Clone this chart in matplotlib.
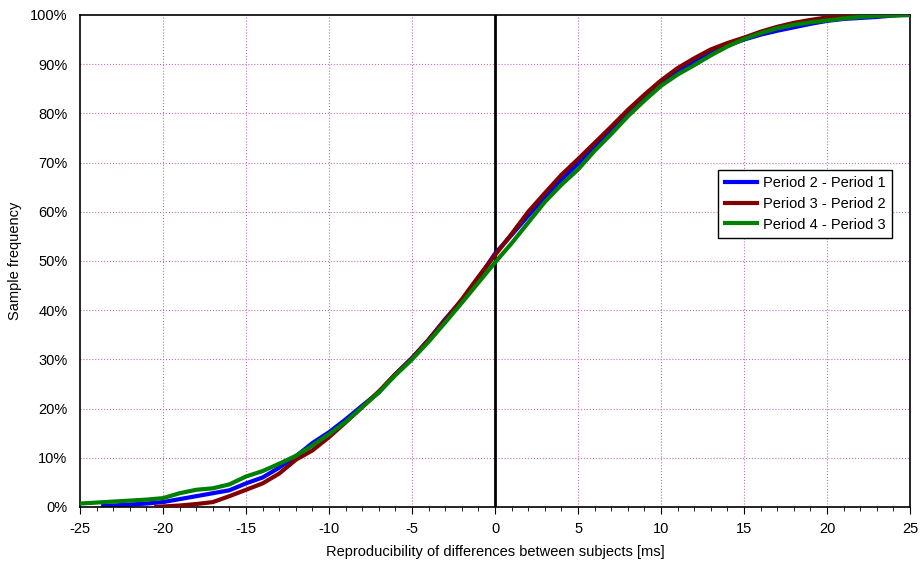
import matplotlib.pyplot as plt
import numpy as np
from matplotlib.ticker import MultipleLocator, PercentFormatter

plt.rcParams['font.family'] = ['Liberation Sans', 'DejaVu Sans']
plt.rcParams['axes.unicode_minus'] = False

# Period 2 - Period 1
x_p21 = [-23.6, -23, -22, -21, -20, -19, -18, -17, -16, -15, -14, -13, -12, -11, -10, -9, -8, -7, -6, -5,
         -4, -3, -2, -1, 0, 1, 2, 3, 4, 5, 6, 7, 8, 9, 10, 11, 12, 13, 14, 15, 16, 17, 18, 19, 20,
         21, 22, 23, 24, 24.5, 25]
y_p21 = [0.2, 0.3, 0.5, 0.7, 1.0, 1.6, 2.2, 2.8, 3.4, 4.8, 6.0, 8.0, 10.3, 13.0, 15.2, 17.8, 20.6, 23.3, 27.0, 30.3,
         34.0, 38.2, 42.0, 46.5, 51.5, 55.3, 59.2, 63.0, 66.5, 69.8, 73.3, 76.6, 80.0, 83.2, 86.0, 88.5, 90.6, 92.4, 93.8, 95.0, 96.0, 96.8, 97.5, 98.2, 98.8,
         99.2, 99.4, 99.6, 99.9, 100, 100]

# Period 3 - Period 2
x_p32 = [-20.4, -20, -19, -18, -17, -16, -15, -14, -13, -12, -11, -10, -9, -8, -7, -6, -5,
         -4, -3, -2, -1, 0, 1, 2, 3, 4, 5, 6, 7, 8, 9, 10, 11, 12, 13, 14, 15, 16, 17, 18, 19, 20,
         21, 22, 25]
y_p32 = [0.0, 0.1, 0.3, 0.6, 1.0, 2.2, 3.5, 4.8, 6.8, 9.6, 11.5, 14.2, 17.2, 20.3, 23.5, 27.0, 30.2,
         34.0, 38.0, 42.2, 46.8, 51.2, 55.5, 60.0, 63.8, 67.5, 70.7, 74.0, 77.3, 80.7, 83.8, 86.7, 89.2, 91.2, 93.0, 94.3, 95.4, 96.6, 97.6, 98.4, 99.0, 99.5,
         99.8, 100, 100]

# Period 4 - Period 3
x_p43 = [-25, -24, -23, -22, -21, -20, -19, -18, -17, -16, -15, -14, -13, -12, -11, -10, -9, -8, -7, -6, -5,
         -4, -3, -2, -1, 0, 1, 2, 3, 4, 5, 6, 7, 8, 9, 10, 11, 12, 13, 14, 15, 16, 17, 18, 19, 20,
         21, 22, 23, 24, 25]
y_p43 = [0.7, 0.9, 1.1, 1.3, 1.5, 1.8, 2.8, 3.5, 3.8, 4.6, 6.2, 7.3, 8.8, 10.4, 12.5, 14.8, 17.3, 20.3, 23.3, 26.8, 30.0,
         33.6, 37.5, 41.5, 45.6, 49.7, 53.6, 57.8, 62.0, 65.5, 68.6, 72.4, 75.8, 79.4, 82.6, 85.6, 87.9, 89.8, 91.8, 93.6, 95.1, 96.3, 97.3, 98.0, 98.5, 98.9,
         99.3, 99.6, 99.8, 99.9, 100]

fig = plt.figure(figsize=(9.22, 5.68), dpi=100)
ax = fig.add_axes([0.0868, 0.1074, 0.9002, 0.8662])

grid_kw = dict(color='#c070c0', linestyle=':', linewidth=0.8)
for gx in np.arange(-20, 25, 5):
    ax.axvline(gx, zorder=0, **grid_kw)
for gy in np.arange(10, 100, 10):
    ax.axhline(gy, zorder=0, **grid_kw)
ax.axvline(0, color='black', linewidth=2, zorder=1)

ax.plot(x_p21, y_p21, color='#0000ff', lw=3, label='Period 2 - Period 1', zorder=2)
ax.plot(x_p32, y_p32, color='#800000', lw=3, label='Period 3 - Period 2', zorder=3)
ax.plot(x_p43, y_p43, color='#008000', lw=3, label='Period 4 - Period 3', zorder=4)

ax.set_xlim(-25, 25)
ax.set_ylim(0, 100)
ax.xaxis.set_major_locator(MultipleLocator(5))
ax.xaxis.set_minor_locator(MultipleLocator(1))
ax.yaxis.set_major_locator(MultipleLocator(10))
ax.yaxis.set_major_formatter(PercentFormatter(decimals=0))
ax.tick_params(axis='x', which='major', length=5, direction='out', labelsize=10.5, pad=6)
ax.tick_params(axis='x', which='minor', length=3, direction='out')
ax.tick_params(axis='y', length=0, labelsize=10.5, pad=9)
for s in ax.spines.values():
    s.set_linewidth(1.2)

ax.set_xlabel('Reproducibility of differences between subjects [ms]', fontsize=10.5, labelpad=6)
ax.set_ylabel('Sample frequency', fontsize=10.5, labelpad=6)

leg = ax.legend(loc='upper left', bbox_to_anchor=(0.76, 0.70), fontsize=10.5, frameon=True,
                fancybox=False, framealpha=1, edgecolor='black', handlelength=2.2,
                borderpad=0.45, labelspacing=0.45, handletextpad=0.4)
leg.get_frame().set_linewidth(1)

fig.savefig('out.png', dpi=100)
